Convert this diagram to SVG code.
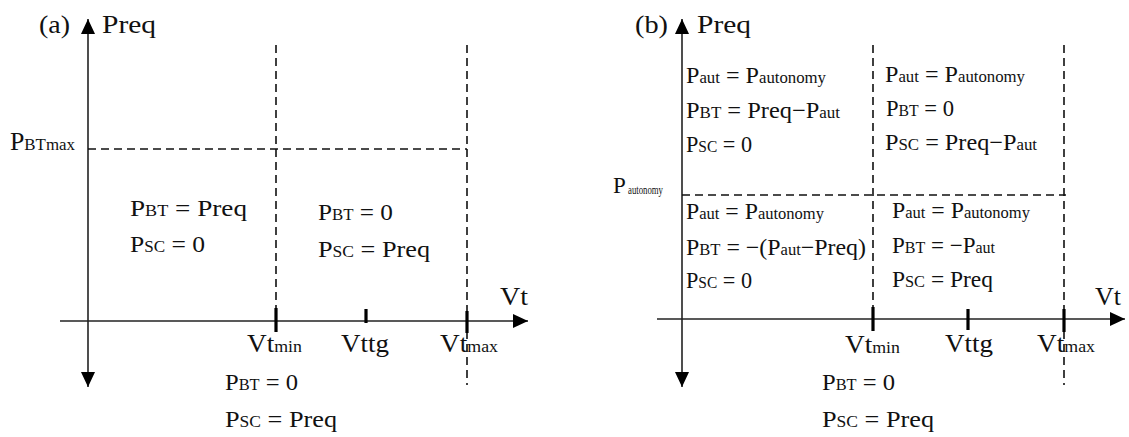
<svg xmlns="http://www.w3.org/2000/svg" width="1129" height="437" viewBox="0 0 1129 437" font-family="'Liberation Serif', 'DejaVu Serif', serif">
<style>
text{font-family:'Liberation Serif','DejaVu Serif',serif}
.t{font-size:24px;fill:#111}
.b{font-size:23px}
.ax{font-size:26px}
.s{font-size:16px}
.s2{font-size:17px}
.s3{font-size:12px}
.axis{stroke:#222;stroke-width:1.6;fill:none}
.dash{stroke:#111;stroke-width:1.6;stroke-dasharray:8 5;fill:none}
.tick{stroke:#000;stroke-width:3.2}
</style>
<defs>
<marker id="arr" markerUnits="userSpaceOnUse" viewBox="0 0 15 14" refX="15" refY="7" markerWidth="15" markerHeight="14" orient="auto-start-reverse">
<path d="M0,0 L15,7 L0,14 z" fill="#000"/>
</marker>
</defs>
<rect width="1129" height="437" fill="#fff"/>

<!-- Panel (a) -->
<g id="panel-a">
 <g id="a-connectors">
  <line class="axis" x1="88" y1="19" x2="88" y2="387" marker-start="url(#arr)" marker-end="url(#arr)"/>
  <line class="axis" x1="60" y1="321" x2="528" y2="321" marker-end="url(#arr)"/>
  <line class="dash" x1="88" y1="149" x2="467" y2="149"/>
  <line class="dash" x1="276" y1="45" x2="276" y2="321"/>
  <line class="dash" x1="467" y1="45" x2="467" y2="385"/>
  <line class="tick" x1="276" y1="308" x2="276" y2="332"/>
  <line class="tick" x1="366" y1="309" x2="366" y2="323"/>
  <line class="tick" x1="467" y1="311" x2="467" y2="333"/>
 </g>
 <g id="a-labels">
  <text class="t ax" x="39" y="33" textLength="31" lengthAdjust="spacingAndGlyphs">(a)</text>
  <text class="t ax" x="102" y="33" textLength="54" lengthAdjust="spacingAndGlyphs">Preq</text>
  <text class="t ax" x="10" y="150" textLength="65" lengthAdjust="spacingAndGlyphs">P<tspan class="s2">BTmax</tspan></text>
  <text class="t ax" x="500" y="305" textLength="28" lengthAdjust="spacingAndGlyphs">Vt</text>
  <text class="t ax" x="247" y="352" textLength="55" lengthAdjust="spacingAndGlyphs">Vt<tspan class="s2">min</tspan></text>
  <text class="t ax" x="341" y="352" textLength="48" lengthAdjust="spacingAndGlyphs">Vttg</text>
  <text class="t ax" x="440" y="352" textLength="58" lengthAdjust="spacingAndGlyphs">Vt<tspan class="s2">max</tspan></text>
 </g>
 <g id="a-region-left">
  <text class="t" x="130" y="216" textLength="117" lengthAdjust="spacingAndGlyphs">P<tspan class="s">BT</tspan> = Preq</text>
  <text class="t" x="130" y="252" textLength="75" lengthAdjust="spacingAndGlyphs">P<tspan class="s">SC</tspan> = 0</text>
 </g>
 <g id="a-region-right">
  <text class="t" x="318" y="220" textLength="75" lengthAdjust="spacingAndGlyphs">P<tspan class="s">BT</tspan> = 0</text>
  <text class="t" x="318" y="257" textLength="112" lengthAdjust="spacingAndGlyphs">P<tspan class="s">SC</tspan> = Preq</text>
 </g>
 <g id="a-region-below">
  <text class="t" x="225" y="390" textLength="73" lengthAdjust="spacingAndGlyphs">P<tspan class="s">BT</tspan> = 0</text>
  <text class="t" x="225" y="427" textLength="112" lengthAdjust="spacingAndGlyphs">P<tspan class="s">SC</tspan> = Preq</text>
 </g>
</g>

<!-- Panel (b) -->
<g id="panel-b">
 <g id="b-connectors">
  <line class="axis" x1="682" y1="19" x2="682" y2="387" marker-start="url(#arr)" marker-end="url(#arr)"/>
  <line class="axis" x1="657" y1="319" x2="1125" y2="319" marker-end="url(#arr)"/>
  <line class="dash" x1="682" y1="195" x2="1066" y2="195"/>
  <line class="dash" x1="873" y1="45" x2="873" y2="319"/>
  <line class="dash" x1="1064" y1="45" x2="1064" y2="385"/>
  <line class="tick" x1="873" y1="307" x2="873" y2="331"/>
  <line class="tick" x1="968" y1="309" x2="968" y2="330"/>
  <line class="tick" x1="1064" y1="309" x2="1064" y2="332"/>
 </g>
 <g id="b-labels">
  <text class="t ax" x="635" y="33" textLength="33" lengthAdjust="spacingAndGlyphs">(b)</text>
  <text class="t ax" x="697" y="33" textLength="54" lengthAdjust="spacingAndGlyphs">Preq</text>
  <text class="t b" x="613" y="193">P</text>
  <text class="t s3" x="628" y="194" textLength="35" lengthAdjust="spacingAndGlyphs">autonomy</text>
  <text class="t ax" x="1095" y="305" textLength="26" lengthAdjust="spacingAndGlyphs">Vt</text>
  <text class="t ax" x="845" y="353" textLength="55" lengthAdjust="spacingAndGlyphs">Vt<tspan class="s2">min</tspan></text>
  <text class="t ax" x="945" y="352" textLength="48" lengthAdjust="spacingAndGlyphs">Vttg</text>
  <text class="t ax" x="1037" y="352" textLength="58" lengthAdjust="spacingAndGlyphs">Vt<tspan class="s2">max</tspan></text>
 </g>
 <g id="b-region-top-left">
  <text class="t b" x="686" y="83" textLength="140" lengthAdjust="spacingAndGlyphs">P<tspan class="s">aut</tspan> = P<tspan class="s">autonomy</tspan></text>
  <text class="t b" x="686" y="118" textLength="154" lengthAdjust="spacingAndGlyphs">P<tspan class="s">BT</tspan> = Preq−P<tspan class="s">aut</tspan></text>
  <text class="t b" x="686" y="152" textLength="66" lengthAdjust="spacingAndGlyphs">P<tspan class="s">SC</tspan> = 0</text>
 </g>
 <g id="b-region-top-right">
  <text class="t b" x="885" y="82" textLength="140" lengthAdjust="spacingAndGlyphs">P<tspan class="s">aut</tspan> = P<tspan class="s">autonomy</tspan></text>
  <text class="t b" x="886" y="116" textLength="68" lengthAdjust="spacingAndGlyphs">P<tspan class="s">BT</tspan> = 0</text>
  <text class="t b" x="885" y="150" textLength="152" lengthAdjust="spacingAndGlyphs">P<tspan class="s">SC</tspan> = Preq−P<tspan class="s">aut</tspan></text>
 </g>
 <g id="b-region-bottom-left">
  <text class="t b" x="686" y="219" textLength="138" lengthAdjust="spacingAndGlyphs">P<tspan class="s">aut</tspan> = P<tspan class="s">autonomy</tspan></text>
  <text class="t b" x="686" y="255" textLength="180" lengthAdjust="spacingAndGlyphs">P<tspan class="s">BT</tspan> = −(P<tspan class="s">aut</tspan>−Preq)</text>
  <text class="t b" x="686" y="288" textLength="66" lengthAdjust="spacingAndGlyphs">P<tspan class="s">SC</tspan> = 0</text>
 </g>
 <g id="b-region-bottom-right">
  <text class="t b" x="892" y="218" textLength="138" lengthAdjust="spacingAndGlyphs">P<tspan class="s">aut</tspan> = P<tspan class="s">autonomy</tspan></text>
  <text class="t b" x="892" y="253" textLength="103" lengthAdjust="spacingAndGlyphs">P<tspan class="s">BT</tspan> = −P<tspan class="s">aut</tspan></text>
  <text class="t b" x="892" y="287" textLength="101" lengthAdjust="spacingAndGlyphs">P<tspan class="s">SC</tspan> = Preq</text>
 </g>
 <g id="b-region-below">
  <text class="t" x="822" y="390" textLength="73" lengthAdjust="spacingAndGlyphs">P<tspan class="s">BT</tspan> = 0</text>
  <text class="t" x="822" y="427" textLength="112" lengthAdjust="spacingAndGlyphs">P<tspan class="s">SC</tspan> = Preq</text>
 </g>
</g>
</svg>
